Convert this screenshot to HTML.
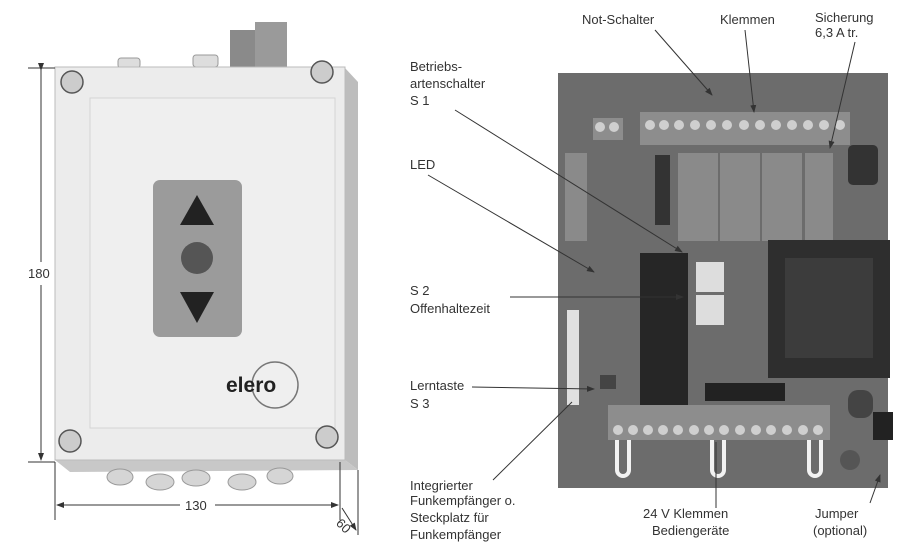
<!DOCTYPE html>
<html><head><meta charset="utf-8"><style>
body{margin:0;width:910px;height:556px;background:#fff;overflow:hidden;font-family:"Liberation Sans",sans-serif;}
svg{position:absolute;left:0;top:0}
.t{font-family:"Liberation Sans",sans-serif;font-size:13px;fill:#333}
</style></head><body>
<svg width="910" height="556" viewBox="0 0 910 556">
<defs><marker id="a" markerWidth="8" markerHeight="8" refX="7" refY="4" orient="auto"><path d="M0,1 L8,4 L0,7z" fill="#333"/></marker></defs>
<rect x="118" y="58" width="22" height="10" rx="3" fill="#ddd" stroke="#999"/>
<rect x="193" y="55" width="25" height="12" rx="3" fill="#ddd" stroke="#999"/>
<rect x="230" y="30" width="30" height="38" fill="#8a8a8a"/>
<rect x="255" y="22" width="32" height="46" fill="#9a9a9a"/>
<polygon points="345,68 358,82 358,470 345,460" fill="#bdbdbd"/>
<polygon points="55,460 345,460 358,470 70,472" fill="#c8c8c8"/>
<rect x="55" y="67" width="290" height="393" fill="#ececec" stroke="#bbb"/>
<rect x="90" y="98" width="245" height="330" fill="#efefef" stroke="#d4d4d4"/>
<g fill="#d5d5d5" stroke="#999">
<ellipse cx="120" cy="477" rx="13" ry="8"/><ellipse cx="160" cy="482" rx="14" ry="8"/><ellipse cx="196" cy="478" rx="14" ry="8"/><ellipse cx="242" cy="482" rx="14" ry="8"/><ellipse cx="280" cy="476" rx="13" ry="8"/></g>
<g fill="#ccc" stroke="#555" stroke-width="1.5">
<circle cx="72" cy="82" r="11"/><circle cx="322" cy="72" r="11"/><circle cx="70" cy="441" r="11"/><circle cx="327" cy="437" r="11"/></g>
<rect x="153" y="180" width="89" height="157" rx="7" fill="#9b9b9b"/>
<polygon points="197,195 214,225 180,225" fill="#222"/>
<circle cx="197" cy="258" r="16" fill="#555"/>
<polygon points="180,292 214,292 197,323" fill="#222"/>
<circle cx="275" cy="385" r="23" fill="none" stroke="#777" stroke-width="1.5"/>
<text x="226" y="392" font-family="Liberation Sans" font-weight="bold" font-size="21" fill="#222">elero</text>
<g stroke="#333" stroke-width="1" fill="none">
<line x1="28" y1="68" x2="55" y2="68"/><line x1="28" y1="462" x2="55" y2="462"/>
<line x1="41" y1="70" x2="41" y2="262" marker-start="url(#a)"/><line x1="41" y1="285" x2="41" y2="460" marker-end="url(#a)"/>
<line x1="55" y1="462" x2="55" y2="520"/><line x1="340" y1="462" x2="340" y2="520"/><line x1="358" y1="470" x2="358" y2="535"/>
<line x1="180" y1="505" x2="57" y2="505" marker-end="url(#a)"/><line x1="215" y1="505" x2="338" y2="505" marker-end="url(#a)"/>
<line x1="342" y1="508" x2="356" y2="530" marker-end="url(#a)"/>
</g>
<text class="t" x="28" y="278">180</text>
<text class="t" x="185" y="510">130</text>
<text class="t" x="336" y="530" transform="rotate(45 343 526)">60</text>
<rect x="558" y="73" width="330" height="415" fill="#6c6c6c"/>
<rect x="640" y="112" width="210" height="33" fill="#8d8d8d"/>
<rect x="593" y="118" width="30" height="22" fill="#8d8d8d"/>
<g fill="#cfcfcf"><circle cx="650" cy="125" r="5"/><circle cx="664" cy="125" r="5"/><circle cx="679" cy="125" r="5"/><circle cx="695" cy="125" r="5"/><circle cx="711" cy="125" r="5"/><circle cx="727" cy="125" r="5"/><circle cx="744" cy="125" r="5"/><circle cx="760" cy="125" r="5"/><circle cx="776" cy="125" r="5"/><circle cx="792" cy="125" r="5"/><circle cx="808" cy="125" r="5"/><circle cx="824" cy="125" r="5"/><circle cx="840" cy="125" r="5"/><circle cx="600" cy="127" r="5"/><circle cx="614" cy="127" r="5"/></g>
<g fill="#8a8a8a"><rect x="678" y="153" width="40" height="88"/><rect x="720" y="153" width="40" height="88"/><rect x="762" y="153" width="40" height="88"/><rect x="805" y="153" width="28" height="88"/><rect x="565" y="153" width="22" height="88"/></g>
<rect x="655" y="155" width="15" height="70" fill="#333"/>
<rect x="848" y="145" width="30" height="40" rx="5" fill="#333"/>
<rect x="768" y="240" width="122" height="138" fill="#2e2e2e"/>
<rect x="785" y="258" width="88" height="100" fill="#3c3c3c"/>
<rect x="640" y="253" width="48" height="154" fill="#262626"/>
<rect x="696" y="262" width="28" height="30" fill="#ddd"/>
<rect x="696" y="295" width="28" height="30" fill="#ddd"/>
<rect x="567" y="310" width="12" height="95" fill="#e0e0e0"/>
<rect x="600" y="375" width="16" height="14" fill="#444"/>
<rect x="705" y="383" width="80" height="18" fill="#222"/>
<rect x="848" y="390" width="25" height="28" rx="10" fill="#444"/>
<rect x="873" y="412" width="20" height="28" fill="#222"/>
<rect x="608" y="405" width="222" height="35" fill="#8d8d8d"/>
<g fill="#cfcfcf"><circle cx="618" cy="430" r="5"/><circle cx="633" cy="430" r="5"/><circle cx="648" cy="430" r="5"/><circle cx="663" cy="430" r="5"/><circle cx="678" cy="430" r="5"/><circle cx="694" cy="430" r="5"/><circle cx="709" cy="430" r="5"/><circle cx="724" cy="430" r="5"/><circle cx="740" cy="430" r="5"/><circle cx="756" cy="430" r="5"/><circle cx="771" cy="430" r="5"/><circle cx="787" cy="430" r="5"/><circle cx="803" cy="430" r="5"/><circle cx="818" cy="430" r="5"/></g>
<g fill="none" stroke="#f2f2f2" stroke-width="4"><path d="M617,440 V470 a6,6 0 0 0 12,0 V440"/><path d="M712,440 V470 a6,6 0 0 0 12,0 V440"/><path d="M809,440 V470 a6,6 0 0 0 12,0 V440"/></g>
<circle cx="850" cy="460" r="10" fill="#555"/>
<g class="t">
<text x="582" y="24">Not-Schalter</text>
<text x="720" y="24">Klemmen</text>
<text x="815" y="22">Sicherung</text><text x="815" y="37">6,3 A tr.</text>
<text x="410" y="71">Betriebs-</text><text x="410" y="88">artenschalter</text><text x="410" y="105">S 1</text>
<text x="410" y="169">LED</text>
<text x="410" y="295">S 2</text><text x="410" y="313">Offenhaltezeit</text>
<text x="410" y="390">Lerntaste</text><text x="410" y="408">S 3</text>
<text x="410" y="490">Integrierter</text><text x="410" y="505">Funkempfänger o.</text><text x="410" y="522">Steckplatz für</text><text x="410" y="539">Funkempfänger</text>
<text x="643" y="518">24 V Klemmen</text><text x="652" y="535">Bediengeräte</text>
<text x="815" y="518">Jumper</text><text x="813" y="535">(optional)</text>
</g>
<g stroke="#333" stroke-width="1" fill="none">
<line x1="655" y1="30" x2="712" y2="95" marker-end="url(#a)"/>
<line x1="745" y1="30" x2="754" y2="112" marker-end="url(#a)"/>
<line x1="855" y1="42" x2="830" y2="148" marker-end="url(#a)"/>
<line x1="455" y1="110" x2="682" y2="252" marker-end="url(#a)"/>
<line x1="428" y1="175" x2="594" y2="272" marker-end="url(#a)"/>
<line x1="510" y1="297" x2="683" y2="297" marker-end="url(#a)"/>
<line x1="472" y1="387" x2="594" y2="389" marker-end="url(#a)"/>
<line x1="493" y1="480" x2="572" y2="402"/>
<line x1="716" y1="508" x2="716" y2="442"/>
<line x1="870" y1="503" x2="880" y2="475" marker-end="url(#a)"/>
</g>
</svg>
</body></html>
